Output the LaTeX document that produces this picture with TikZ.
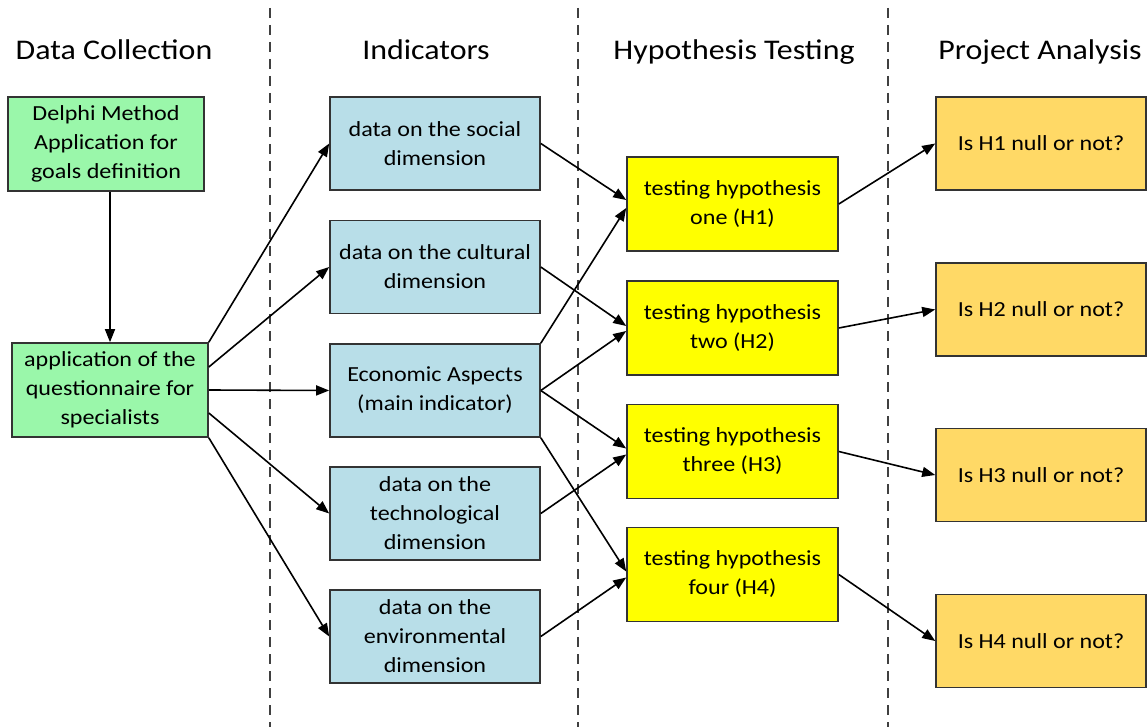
\documentclass[tikz,border=0pt]{standalone}
\usepackage{fontspec}
\setmainfont{Carlito}[FakeStretch=1.12]
\usetikzlibrary{arrows.meta}
\definecolor{greenbox}{HTML}{9AF7AA}
\definecolor{bluebox}{HTML}{B8DEE8}
\definecolor{yellowbox}{HTML}{FFFF00}
\definecolor{orangebox}{HTML}{FFD966}
\tikzset{
  box/.style={draw=black!80, line width=1.6pt, align=center, inner sep=2pt,
    font=\fontsize{21.5}{29}\selectfont},
  gbox/.style={box, fill=greenbox, minimum width=196pt, minimum height=94pt},
  bbox/.style={box, fill=bluebox, minimum width=210pt, minimum height=93pt},
  ybox/.style={box, fill=yellowbox, minimum width=211pt, minimum height=94pt},
  obox/.style={box, fill=orangebox, minimum width=210pt, minimum height=93pt},
  head/.style={anchor=base, font=\fontsize{28.5}{34}\selectfont},
  sep/.style={draw=black!75, line width=1.4pt, dash pattern=on 10pt off 7pt},
  conn/.style={draw=black, line width=1.6pt, -{Triangle[length=13pt,width=10pt]}}
}
\begin{document}
\begin{tikzpicture}[x=1pt,y=-1pt]
\useasboundingbox (0,0) rectangle (1148,727);
% separators
\coordinate (s1t) at (270,8); \coordinate (s1b) at (270,727);
\coordinate (s2t) at (578,8); \coordinate (s2b) at (578,727);
\coordinate (s3t) at (888,8); \coordinate (s3b) at (888,727);
\draw[sep] (s1t) -- (s1b);
\draw[sep] (s2t) -- (s2b);
\draw[sep] (s3t) -- (s3b);
% headings
\node[head] (h1) at (114,60) {Data Collection};
\node[head] (h2) at (426,60) {Indicators};
\node[head] (h3) at (734,60) {Hypothesis Testing};
\node[head] (h4) at (1040,60) {Project Analysis};
% boxes
\node[gbox] (delphi) at (106,144) {Delphi Method\\Application for\\goals definition};
\node[gbox] (quest) at (110,390) {application of the\\questionnaire for\\specialists};
\node[bbox] (soc) at (435,143.5) {data on the social\\dimension};
\node[bbox] (cul) at (435,267) {data on the cultural\\dimension};
\node[bbox] (eco) at (435,390.5) {Economic Aspects\\(main indicator)};
\node[bbox] (tec) at (435,513.5) {data on the\\technological\\dimension};
\node[bbox] (env) at (435,636.5) {data on the\\environmental\\dimension};
\node[ybox] (t1) at (732.5,204) {testing hypothesis\\one (H1)};
\node[ybox] (t2) at (732.5,328) {testing hypothesis\\two (H2)};
\node[ybox] (t3) at (732.5,451.5) {testing hypothesis\\three (H3)};
\node[ybox] (t4) at (732.5,574.5) {testing hypothesis\\four (H4)};
\node[obox] (o1) at (1041,143.5) {Is H1 null or not?};
\node[obox] (o2) at (1041,309.5) {Is H2 null or not?};
\node[obox] (o3) at (1041,475) {Is H3 null or not?};
\node[obox] (o4) at (1041,641) {Is H4 null or not?};
% connectors
\draw[conn] (quest.north |- delphi.south) -- (quest.north);
\draw[conn] (quest.north east) -- (soc.west);
\draw[conn] ([yshift=23pt]quest.east) -- (cul.west);
\draw[conn] (quest.east) -- (eco.west);
\draw[conn] ([yshift=-23pt]quest.east) -- (tec.west);
\draw[conn] (quest.south east) -- (env.west);
\draw[conn] (soc.east) -- ([yshift=4pt]t1.west);
\draw[conn] (eco.north east) -- ([yshift=-4pt]t1.west);
\draw[conn] (cul.east) -- ([yshift=2pt]t2.west);
\draw[conn] (eco.east) -- ([yshift=-3pt]t2.west);
\draw[conn] (eco.east) -- ([yshift=3pt]t3.west);
\draw[conn] (tec.east) -- ([yshift=-3pt]t3.west);
\draw[conn] (eco.south east) -- ([yshift=3pt]t4.west);
\draw[conn] (env.east) -- ([yshift=-3pt]t4.west);
\draw[conn] (t1.east) -- (o1.west);
\draw[conn] (t2.east) -- (o2.west);
\draw[conn] (t3.east) -- (o3.west);
\draw[conn] (t4.east) -- (o4.west);
\end{tikzpicture}
\end{document}
